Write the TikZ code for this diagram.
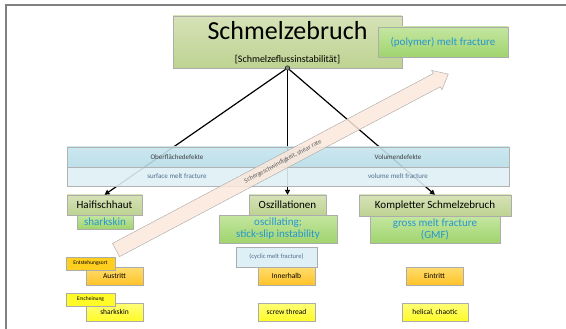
\documentclass[tikz,border=0pt]{standalone}
\usepackage{fontspec}
\setmainfont{Carlito}
\usepackage{xcolor}
\usepackage{tikz}
\usetikzlibrary{arrows.meta}
\usetikzlibrary{shadows}
\definecolor{oliveA}{RGB}{214,226,183}
\definecolor{oliveB}{RGB}{190,211,146}
\definecolor{greenA}{RGB}{196,230,160}
\definecolor{greenB}{RGB}{160,212,110}
\definecolor{skytxt}{RGB}{35,150,210}
\definecolor{bandA}{RGB}{183,221,232}
\definecolor{bandB}{RGB}{222,239,245}
\definecolor{bandtxt}{RGB}{80,110,140}
\definecolor{orangeA}{RGB}{255,220,110}
\definecolor{orangeB}{RGB}{255,195,40}
\definecolor{yellowA}{RGB}{255,255,120}
\definecolor{yellowB}{RGB}{255,250,40}
\definecolor{peach}{RGB}{251,232,218}
\def\fs#1{\fontsize{#1}{#1}\selectfont}

\begin{document}
\begin{tikzpicture}[x=1pt,y=-1pt,
	box/.style={draw=gray!65,inner sep=0pt,align=center,
		drop shadow={shadow xshift=1.2pt,shadow yshift=-1.2pt,opacity=0.35}},
	olivebox/.style={box,top color=oliveA,bottom color=oliveB,font=\fs{11}},
	greenbox/.style={box,top color=greenA,bottom color=greenB,text=skytxt,font=\fs{11}},
	orangebox/.style={box,top color=orangeA,bottom color=orangeB,font=\fs{7.5},
		minimum width=57,minimum height=18},
	yellowbox/.style={box,top color=yellowA,bottom color=yellowB,font=\fs{7.5},
		minimum width=57,minimum height=18},
	tagbox/.style={box,font=\fs{5.5},minimum width=49,minimum height=13},
	conn/.style={line width=1.2pt,-{Triangle[length=5pt,width=5pt,fill=gray]}},
	bandlbl/.style={font=\fs{7}}]
	\useasboundingbox (0,0) rectangle (566,329);
	\draw[gray,line width=1.2pt] (6,329)--(6,5)--(566,5);

	\node[olivebox,minimum width=229,minimum height=52] (top) at (287.5,42) {};
	\node[font=\fs{26}] (title) at (287.5,31) {Schmelzebruch};
	\node[font=\fs{10}] (subtitle) at (287.5,60) {[Schmelzeflussinstabilität]};
	\node[greenbox,minimum width=130,minimum height=30] (polymer) at (443,42) {(polymer) melt fracture};

	\node[olivebox,minimum width=75,minimum height=20] (haif) at (104.5,205) {Haifischhaut};
	\node[greenbox,minimum width=56,minimum height=14] (sharkg) at (105,222) {sharkskin};
	\node[olivebox,minimum width=77,minimum height=20] (osz) at (287.5,205) {Oszillationen};
	\node[greenbox,minimum width=118,minimum height=28] (oscil) at (278,229) {oscillating;\\[1pt]stick-slip instability};
	\node[box,fill=bandB,text=bandtxt,font=\fs{6.5},minimum width=81,minimum height=20] (cyclic) at (276.5,257) {(cyclic melt fracture)};
	\node[olivebox,minimum width=152,minimum height=21] (komp) at (435,205.5) {Kompletter Schmelzebruch};
	\node[greenbox,minimum width=130,minimum height=27] (gross) at (435,229.5) {gross melt fracture\\[1pt](GMF)};

	\node[orangebox] (austr) at (114.5,276) {Austritt};
	\node[tagbox,fill=orangeB!80!yellow] (entst) at (90.5,263.5) {Entstehungsort};
	\node[orangebox] (inner) at (286.5,276) {Innerhalb};
	\node[orangebox] (eintr) at (434.5,276) {Eintritt};
	\node[yellowbox] (shark) at (114.5,312) {sharkskin};
	\node[tagbox,fill=yellowB] (ersch) at (90.5,299.5) {Erscheinung};
	\node[yellowbox] (screw) at (286.5,312) {screw thread};
	\node[yellowbox,minimum width=66] (helic) at (435,312) {helical, chaotic};

	\node[circle,draw=black,fill=gray,inner sep=0pt,minimum size=4.5] (jn) at (287.5,68) {};
	\draw[conn] (jn)--(haif.north);
	\draw[conn] (jn)--(osz.north);
	\draw[conn] (jn)--(komp.north);

	\node[draw=gray!60,top color=bandA!80,bottom color=bandA,fill opacity=0.9,
		minimum width=442,minimum height=20,inner sep=0pt] (bandtop) at (288,157) {};
	\node[draw=gray!60,fill=bandB,fill opacity=0.9,
		minimum width=442,minimum height=19,inner sep=0pt] (bandlow) at (288,176.5) {};
	\node[bandlbl,text=black!75] (surfde) at (177,157) {Oberflächedefekte};
	\node[bandlbl,text=bandtxt] (surfen) at (177,176.5) {surface melt fracture};
	\node[bandlbl,text=black!75] (volde) at (398,157) {Volumendefekte};
	\node[bandlbl,text=bandtxt] (volen) at (398,176.5) {volume melt fracture};

	\begin{scope}[shift={(116,250)},rotate=27.9]
		\draw[gray!70,fill=peach,fill opacity=0.85] (0,-7.5)--(363,-7.5)--(363,-11)--(376,0)
			--(363,11)--(363,7.5)--(0,7.5)--cycle;
		\node[rotate=27.9,font=\fs{6.5},text=black!65] (shear) at (189,0) {Schergeschwindigkeit, shear rate};
	\end{scope}
\end{tikzpicture}
\end{document}
